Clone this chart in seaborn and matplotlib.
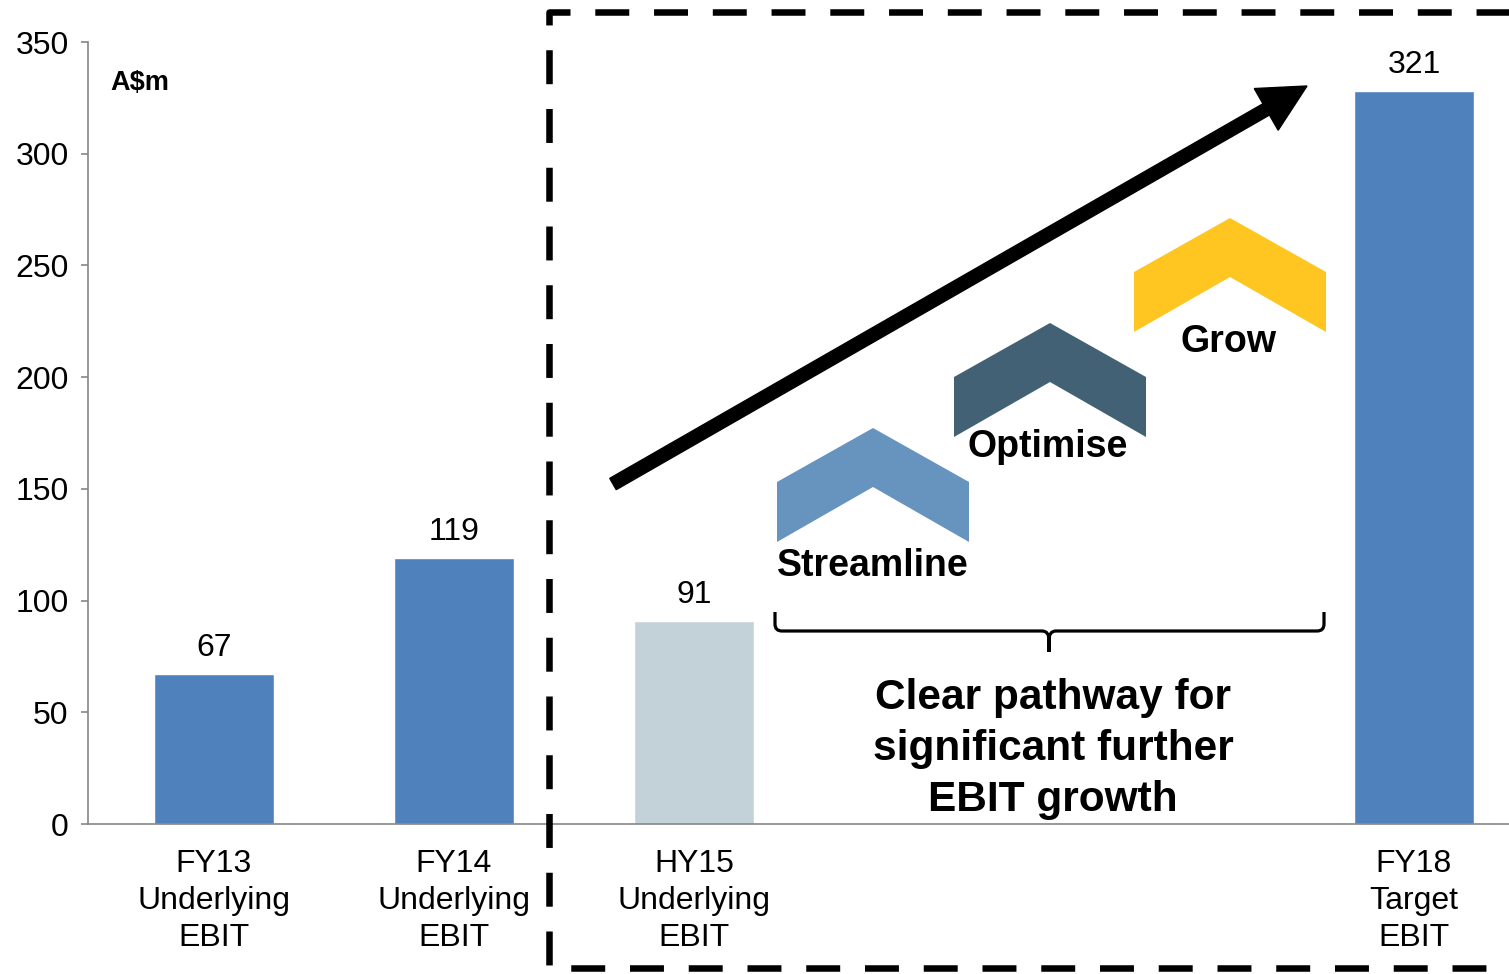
import numpy as np
import pandas as pd
import matplotlib
matplotlib.use("Agg")
import matplotlib.pyplot as plt
import seaborn as sns
from matplotlib.patches import Polygon, FancyArrow, PathPatch
from matplotlib.path import Path
from matplotlib.lines import Line2D

# data
categories = ["FY13\nUnderlying\nEBIT", "FY14\nUnderlying\nEBIT",
              "HY15\nUnderlying\nEBIT", "FY18\nTarget\nEBIT"]
slots = [0, 1, 2, 5]                 # HY15 -> FY18 gap holds the annotation
bar_heights = [67, 119, 91, 328]     # as drawn
value_labels = ["67", "119", "91", "321"]
bar_colors = ["#4F81BD", "#4F81BD", "#C3D2D8", "#4F81BD"]
y_ticks = [0, 50, 100, 150, 200, 250, 300, 350]
steps = ["Streamline", "Optimise", "Grow"]
step_colors = ["#6794BE", "#426175", "#FFC520"]

df = pd.DataFrame({"slot": slots, "ebit": bar_heights, "cat": categories})

sns.set_theme(style="white")
plt.rcParams["font.family"] = ["Liberation Sans", "DejaVu Sans"]
plt.rcParams["text.color"] = "black"
plt.rcParams["xtick.labelcolor"] = "black"
plt.rcParams["ytick.labelcolor"] = "black"

W, H = 1509, 974
fig = plt.figure(figsize=(W / 100, H / 100), dpi=100)
ax = fig.add_axes([88 / W, (H - 824) / H, 1 - 88 / W, 782 / H])

sns.barplot(data=df, x="slot", y="ebit", hue="cat",
            palette=dict(zip(categories, bar_colors)),
            native_scale=True, width=0.5, dodge=False, legend=False,
            saturation=1, ax=ax)

for cont, lab in zip(ax.containers, value_labels):
    ax.bar_label(cont, labels=[lab], padding=8, fontsize=23, color="black")

ax.set_xlim(-126 / 240, (W - 214) / 240)
ax.set_ylim(0, 350)
ax.set_yticks(y_ticks)
ax.set_xticks(slots)
ax.set_xticklabels(categories, fontsize=23, linespacing=1.3)
ax.tick_params(axis="y", labelsize=23, length=5, width=1.2, color="#868686",
               direction="out", pad=9, left=True)
ax.tick_params(axis="x", length=0, pad=18)
ax.set_xlabel("")
ax.set_ylabel("")
for s in ["top", "right"]:
    ax.spines[s].set_visible(False)
for s in ["left", "bottom"]:
    ax.spines[s].set_color("#868686")
    ax.spines[s].set_linewidth(1.2)

tr = fig.dpi_scale_trans


def px(x, y):
    return (x / 100, (H - y) / 100)


fig.text(*px(110, 83), "A$m", fontsize=19.5, fontweight="bold", va="center",
         transform=tr)

# dashed box around the outlook
bx = [W + 10, 549, 549, W + 10]
by = [12, 12, 968, 968]
pts = [px(x, y) for x, y in zip(bx, by)]
fig.add_artist(Line2D([p[0] for p in pts], [p[1] for p in pts], transform=tr,
                      color="black", lw=4.7, linestyle=(0, (5.2, 3.8)),
                      solid_joinstyle="miter"))

# big arrow
x0, y0 = px(613, 484)
x1, y1 = px(1307, 86)
fig.add_artist(FancyArrow(x0, y0, x1 - x0, y1 - y0, width=0.13,
                          head_width=0.48, head_length=0.47,
                          length_includes_head=True, color="black",
                          transform=tr))

# chevrons
chev_cx = [873, 1050, 1230]
chev_top = [428, 323, 218]
label_y = [566, 447, 342]
label_x = [873, 1048, 1229]
for cx, ty, col, name, lx, ly in zip(chev_cx, chev_top, step_colors, steps,
                                     label_x, label_y):
    shape = [px(cx - 96, ty + 54), px(cx, ty), px(cx + 96, ty + 54),
             px(cx + 96, ty + 114), px(cx, ty + 59), px(cx - 96, ty + 114)]
    fig.add_artist(Polygon(shape, closed=True, color=col, lw=0, transform=tr))
    fig.text(*px(lx, ly), name, fontsize=27, fontweight="bold",
             ha="center", va="center", transform=tr)

# brace
verts = [(775, 612), (775, 624), (775, 631), (782, 631), (1042, 631),
         (1049, 631), (1049, 640), (1049, 652), (1049, 640), (1049, 631),
         (1056, 631), (1317, 631), (1324, 631), (1324, 624), (1324, 612)]
codes = [Path.MOVETO, Path.LINETO, Path.CURVE3, Path.CURVE3, Path.LINETO,
         Path.CURVE3, Path.CURVE3, Path.LINETO, Path.LINETO, Path.CURVE3,
         Path.CURVE3, Path.LINETO, Path.CURVE3, Path.CURVE3, Path.LINETO]
fig.add_artist(PathPatch(Path([px(*v) for v in verts], codes), fill=False,
                         lw=2.3, color="black", transform=tr))

fig.text(*px(1053, 749), "Clear pathway for\nsignificant further\nEBIT growth",
         fontsize=30.5, fontweight="bold", ha="center", va="center",
         linespacing=1.36, transform=tr)

fig.savefig("out.png", dpi=100)
